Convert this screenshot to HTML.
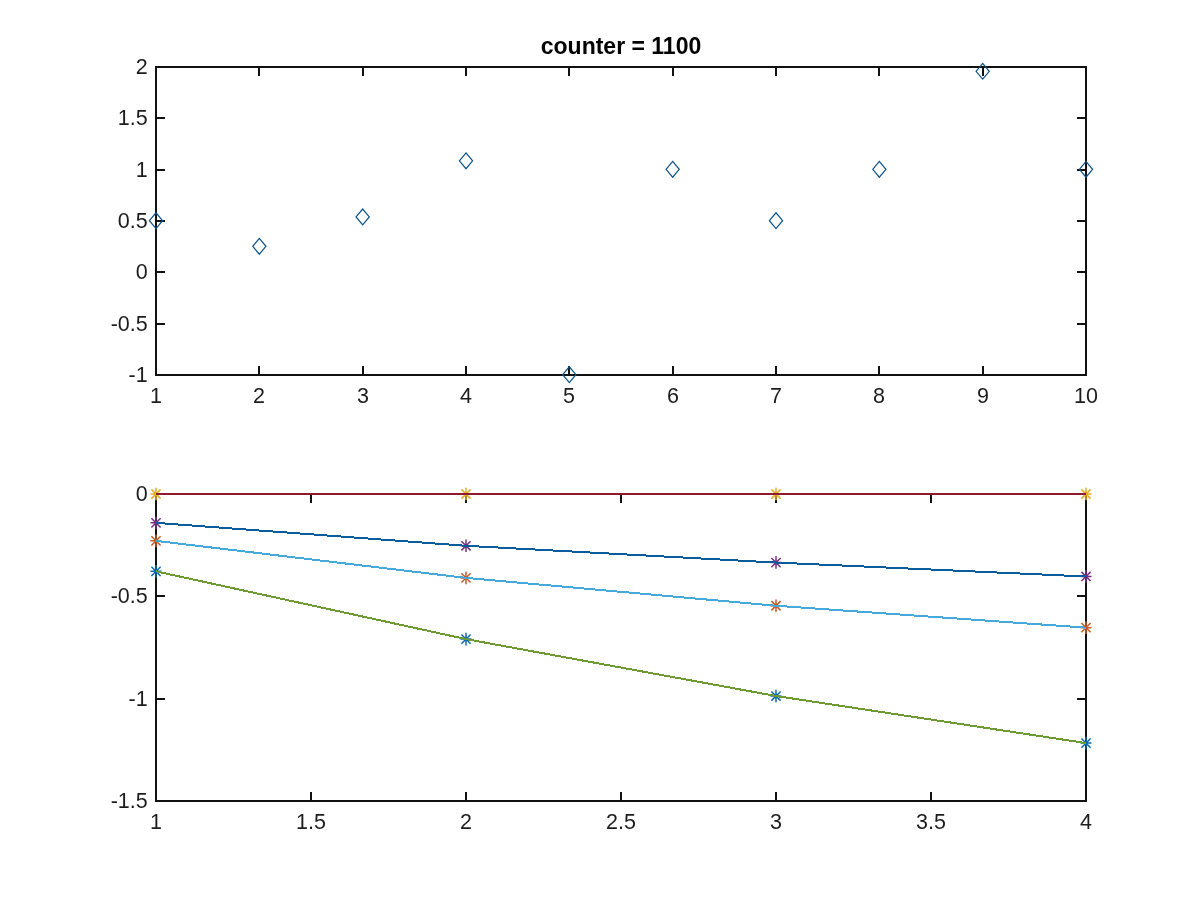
<!DOCTYPE html>
<html><head><meta charset="utf-8"><style>
html,body{margin:0;padding:0;background:#fff;width:1200px;height:900px;overflow:hidden}
svg{display:block;font-family:"Liberation Sans",sans-serif;will-change:transform}
</style></head><body>
<svg width="1200" height="900" viewBox="0 0 1200 900">
<rect width="1200" height="900" fill="#fff"/>
<path d="M156,67 H1086 V375 H156 Z" fill="none" stroke="#111111" stroke-width="2"/>
<line x1="156.00" y1="375.00" x2="156.00" y2="366.00" stroke="#111111" stroke-width="2"/>
<line x1="156.00" y1="67.00" x2="156.00" y2="76.00" stroke="#111111" stroke-width="2"/>
<text x="156.00" y="403.00" text-anchor="middle" font-size="21.5" font-weight="normal" fill="#1c1c1c">1</text>
<line x1="259.00" y1="375.00" x2="259.00" y2="366.00" stroke="#111111" stroke-width="2"/>
<line x1="259.00" y1="67.00" x2="259.00" y2="76.00" stroke="#111111" stroke-width="2"/>
<text x="259.00" y="403.00" text-anchor="middle" font-size="21.5" font-weight="normal" fill="#1c1c1c">2</text>
<line x1="363.00" y1="375.00" x2="363.00" y2="366.00" stroke="#111111" stroke-width="2"/>
<line x1="363.00" y1="67.00" x2="363.00" y2="76.00" stroke="#111111" stroke-width="2"/>
<text x="363.00" y="403.00" text-anchor="middle" font-size="21.5" font-weight="normal" fill="#1c1c1c">3</text>
<line x1="466.00" y1="375.00" x2="466.00" y2="366.00" stroke="#111111" stroke-width="2"/>
<line x1="466.00" y1="67.00" x2="466.00" y2="76.00" stroke="#111111" stroke-width="2"/>
<text x="466.00" y="403.00" text-anchor="middle" font-size="21.5" font-weight="normal" fill="#1c1c1c">4</text>
<line x1="569.00" y1="375.00" x2="569.00" y2="366.00" stroke="#111111" stroke-width="2"/>
<line x1="569.00" y1="67.00" x2="569.00" y2="76.00" stroke="#111111" stroke-width="2"/>
<text x="569.00" y="403.00" text-anchor="middle" font-size="21.5" font-weight="normal" fill="#1c1c1c">5</text>
<line x1="673.00" y1="375.00" x2="673.00" y2="366.00" stroke="#111111" stroke-width="2"/>
<line x1="673.00" y1="67.00" x2="673.00" y2="76.00" stroke="#111111" stroke-width="2"/>
<text x="673.00" y="403.00" text-anchor="middle" font-size="21.5" font-weight="normal" fill="#1c1c1c">6</text>
<line x1="776.00" y1="375.00" x2="776.00" y2="366.00" stroke="#111111" stroke-width="2"/>
<line x1="776.00" y1="67.00" x2="776.00" y2="76.00" stroke="#111111" stroke-width="2"/>
<text x="776.00" y="403.00" text-anchor="middle" font-size="21.5" font-weight="normal" fill="#1c1c1c">7</text>
<line x1="879.00" y1="375.00" x2="879.00" y2="366.00" stroke="#111111" stroke-width="2"/>
<line x1="879.00" y1="67.00" x2="879.00" y2="76.00" stroke="#111111" stroke-width="2"/>
<text x="879.00" y="403.00" text-anchor="middle" font-size="21.5" font-weight="normal" fill="#1c1c1c">8</text>
<line x1="983.00" y1="375.00" x2="983.00" y2="366.00" stroke="#111111" stroke-width="2"/>
<line x1="983.00" y1="67.00" x2="983.00" y2="76.00" stroke="#111111" stroke-width="2"/>
<text x="983.00" y="403.00" text-anchor="middle" font-size="21.5" font-weight="normal" fill="#1c1c1c">9</text>
<line x1="1086.00" y1="375.00" x2="1086.00" y2="366.00" stroke="#111111" stroke-width="2"/>
<line x1="1086.00" y1="67.00" x2="1086.00" y2="76.00" stroke="#111111" stroke-width="2"/>
<text x="1086.00" y="403.00" text-anchor="middle" font-size="21.5" font-weight="normal" fill="#1c1c1c">10</text>
<line x1="156.00" y1="375.00" x2="165.00" y2="375.00" stroke="#111111" stroke-width="2"/>
<line x1="1086.00" y1="375.00" x2="1077.00" y2="375.00" stroke="#111111" stroke-width="2"/>
<text x="147.70" y="382.30" text-anchor="end" font-size="21.5" font-weight="normal" fill="#1c1c1c">-1</text>
<line x1="156.00" y1="324.00" x2="165.00" y2="324.00" stroke="#111111" stroke-width="2"/>
<line x1="1086.00" y1="324.00" x2="1077.00" y2="324.00" stroke="#111111" stroke-width="2"/>
<text x="147.70" y="331.30" text-anchor="end" font-size="21.5" font-weight="normal" fill="#1c1c1c">-0.5</text>
<line x1="156.00" y1="272.00" x2="165.00" y2="272.00" stroke="#111111" stroke-width="2"/>
<line x1="1086.00" y1="272.00" x2="1077.00" y2="272.00" stroke="#111111" stroke-width="2"/>
<text x="147.70" y="279.30" text-anchor="end" font-size="21.5" font-weight="normal" fill="#1c1c1c">0</text>
<line x1="156.00" y1="221.00" x2="165.00" y2="221.00" stroke="#111111" stroke-width="2"/>
<line x1="1086.00" y1="221.00" x2="1077.00" y2="221.00" stroke="#111111" stroke-width="2"/>
<text x="147.70" y="228.30" text-anchor="end" font-size="21.5" font-weight="normal" fill="#1c1c1c">0.5</text>
<line x1="156.00" y1="170.00" x2="165.00" y2="170.00" stroke="#111111" stroke-width="2"/>
<line x1="1086.00" y1="170.00" x2="1077.00" y2="170.00" stroke="#111111" stroke-width="2"/>
<text x="147.70" y="177.30" text-anchor="end" font-size="21.5" font-weight="normal" fill="#1c1c1c">1</text>
<line x1="156.00" y1="118.00" x2="165.00" y2="118.00" stroke="#111111" stroke-width="2"/>
<line x1="1086.00" y1="118.00" x2="1077.00" y2="118.00" stroke="#111111" stroke-width="2"/>
<text x="147.70" y="125.30" text-anchor="end" font-size="21.5" font-weight="normal" fill="#1c1c1c">1.5</text>
<line x1="156.00" y1="67.00" x2="165.00" y2="67.00" stroke="#111111" stroke-width="2"/>
<line x1="1086.00" y1="67.00" x2="1077.00" y2="67.00" stroke="#111111" stroke-width="2"/>
<text x="147.70" y="74.30" text-anchor="end" font-size="21.5" font-weight="normal" fill="#1c1c1c">2</text>
<path d="M149.40,220.65 L156.00,212.75 L162.60,220.65 L156.00,228.55 Z" fill="none" stroke="#0a5188" stroke-width="1.2"/>
<path d="M252.73,246.32 L259.33,238.42 L265.93,246.32 L259.33,254.22 Z" fill="none" stroke="#0a5188" stroke-width="1.2"/>
<path d="M356.07,216.95 L362.67,209.05 L369.27,216.95 L362.67,224.85 Z" fill="none" stroke="#0a5188" stroke-width="1.2"/>
<path d="M459.40,160.80 L466.00,152.90 L472.60,160.80 L466.00,168.70 Z" fill="none" stroke="#0a5188" stroke-width="1.2"/>
<path d="M562.73,374.65 L569.33,366.75 L575.93,374.65 L569.33,382.55 Z" fill="none" stroke="#0a5188" stroke-width="1.2"/>
<path d="M666.07,169.32 L672.67,161.42 L679.27,169.32 L672.67,177.22 Z" fill="none" stroke="#0a5188" stroke-width="1.2"/>
<path d="M769.40,220.65 L776.00,212.75 L782.60,220.65 L776.00,228.55 Z" fill="none" stroke="#0a5188" stroke-width="1.2"/>
<path d="M872.73,169.32 L879.33,161.42 L885.93,169.32 L879.33,177.22 Z" fill="none" stroke="#0a5188" stroke-width="1.2"/>
<path d="M976.07,71.27 L982.67,63.37 L989.27,71.27 L982.67,79.17 Z" fill="none" stroke="#0a5188" stroke-width="1.2"/>
<path d="M1079.40,169.32 L1086.00,161.42 L1092.60,169.32 L1086.00,177.22 Z" fill="none" stroke="#0a5188" stroke-width="1.2"/>
<text x="621.00" y="54.00" text-anchor="middle" font-size="23" font-weight="bold" fill="#000">counter = 1100</text>
<path d="M156,494 H1086 V801 H156 Z" fill="none" stroke="#111111" stroke-width="2"/>
<line x1="156.00" y1="801.00" x2="156.00" y2="792.00" stroke="#111111" stroke-width="2"/>
<line x1="156.00" y1="494.00" x2="156.00" y2="503.00" stroke="#111111" stroke-width="2"/>
<text x="156.00" y="829.00" text-anchor="middle" font-size="21.5" font-weight="normal" fill="#1c1c1c">1</text>
<line x1="311.00" y1="801.00" x2="311.00" y2="792.00" stroke="#111111" stroke-width="2"/>
<line x1="311.00" y1="494.00" x2="311.00" y2="503.00" stroke="#111111" stroke-width="2"/>
<text x="311.00" y="829.00" text-anchor="middle" font-size="21.5" font-weight="normal" fill="#1c1c1c">1.5</text>
<line x1="466.00" y1="801.00" x2="466.00" y2="792.00" stroke="#111111" stroke-width="2"/>
<line x1="466.00" y1="494.00" x2="466.00" y2="503.00" stroke="#111111" stroke-width="2"/>
<text x="466.00" y="829.00" text-anchor="middle" font-size="21.5" font-weight="normal" fill="#1c1c1c">2</text>
<line x1="621.00" y1="801.00" x2="621.00" y2="792.00" stroke="#111111" stroke-width="2"/>
<line x1="621.00" y1="494.00" x2="621.00" y2="503.00" stroke="#111111" stroke-width="2"/>
<text x="621.00" y="829.00" text-anchor="middle" font-size="21.5" font-weight="normal" fill="#1c1c1c">2.5</text>
<line x1="776.00" y1="801.00" x2="776.00" y2="792.00" stroke="#111111" stroke-width="2"/>
<line x1="776.00" y1="494.00" x2="776.00" y2="503.00" stroke="#111111" stroke-width="2"/>
<text x="776.00" y="829.00" text-anchor="middle" font-size="21.5" font-weight="normal" fill="#1c1c1c">3</text>
<line x1="931.00" y1="801.00" x2="931.00" y2="792.00" stroke="#111111" stroke-width="2"/>
<line x1="931.00" y1="494.00" x2="931.00" y2="503.00" stroke="#111111" stroke-width="2"/>
<text x="931.00" y="829.00" text-anchor="middle" font-size="21.5" font-weight="normal" fill="#1c1c1c">3.5</text>
<line x1="1086.00" y1="801.00" x2="1086.00" y2="792.00" stroke="#111111" stroke-width="2"/>
<line x1="1086.00" y1="494.00" x2="1086.00" y2="503.00" stroke="#111111" stroke-width="2"/>
<text x="1086.00" y="829.00" text-anchor="middle" font-size="21.5" font-weight="normal" fill="#1c1c1c">4</text>
<line x1="156.00" y1="801.00" x2="165.00" y2="801.00" stroke="#111111" stroke-width="2"/>
<line x1="1086.00" y1="801.00" x2="1077.00" y2="801.00" stroke="#111111" stroke-width="2"/>
<text x="147.70" y="808.30" text-anchor="end" font-size="21.5" font-weight="normal" fill="#1c1c1c">-1.5</text>
<line x1="156.00" y1="699.00" x2="165.00" y2="699.00" stroke="#111111" stroke-width="2"/>
<line x1="1086.00" y1="699.00" x2="1077.00" y2="699.00" stroke="#111111" stroke-width="2"/>
<text x="147.70" y="706.30" text-anchor="end" font-size="21.5" font-weight="normal" fill="#1c1c1c">-1</text>
<line x1="156.00" y1="596.00" x2="165.00" y2="596.00" stroke="#111111" stroke-width="2"/>
<line x1="1086.00" y1="596.00" x2="1077.00" y2="596.00" stroke="#111111" stroke-width="2"/>
<text x="147.70" y="603.30" text-anchor="end" font-size="21.5" font-weight="normal" fill="#1c1c1c">-0.5</text>
<line x1="156.00" y1="494.00" x2="165.00" y2="494.00" stroke="#111111" stroke-width="2"/>
<line x1="1086.00" y1="494.00" x2="1077.00" y2="494.00" stroke="#111111" stroke-width="2"/>
<text x="147.70" y="501.30" text-anchor="end" font-size="21.5" font-weight="normal" fill="#1c1c1c">0</text>
<path d="M150.50,494.00H161.50M156.00,487.70V500.30M151.40,489.40L160.60,498.60M151.40,498.60L160.60,489.40" fill="none" stroke="#e3ad2c" stroke-width="1.5"/>
<path d="M460.50,494.00H471.50M466.00,487.70V500.30M461.40,489.40L470.60,498.60M461.40,498.60L470.60,489.40" fill="none" stroke="#e3ad2c" stroke-width="1.5"/>
<path d="M770.50,494.00H781.50M776.00,487.70V500.30M771.40,489.40L780.60,498.60M771.40,498.60L780.60,489.40" fill="none" stroke="#e3ad2c" stroke-width="1.5"/>
<path d="M1080.50,494.00H1091.50M1086.00,487.70V500.30M1081.40,489.40L1090.60,498.60M1081.40,498.60L1090.60,489.40" fill="none" stroke="#e3ad2c" stroke-width="1.5"/>
<path d="M150.50,522.86H161.50M156.00,516.56V529.16M151.40,518.26L160.60,527.46M151.40,527.46L160.60,518.26" fill="none" stroke="#74307f" stroke-width="1.5"/>
<path d="M460.50,545.78H471.50M466.00,539.48V552.08M461.40,541.18L470.60,550.38M461.40,550.38L470.60,541.18" fill="none" stroke="#74307f" stroke-width="1.5"/>
<path d="M770.50,562.56H781.50M776.00,556.26V568.86M771.40,557.96L780.60,567.16M771.40,567.16L780.60,557.96" fill="none" stroke="#74307f" stroke-width="1.5"/>
<path d="M1080.50,576.48H1091.50M1086.00,570.18V582.78M1081.40,571.88L1090.60,581.08M1081.40,581.08L1090.60,571.88" fill="none" stroke="#74307f" stroke-width="1.5"/>
<path d="M150.50,540.87H161.50M156.00,534.57V547.17M151.40,536.27L160.60,545.47M151.40,545.47L160.60,536.27" fill="none" stroke="#c65a28" stroke-width="1.5"/>
<path d="M460.50,577.91H471.50M466.00,571.61V584.21M461.40,573.31L470.60,582.51M461.40,582.51L470.60,573.31" fill="none" stroke="#c65a28" stroke-width="1.5"/>
<path d="M770.50,605.75H781.50M776.00,599.45V612.05M771.40,601.15L780.60,610.35M771.40,610.35L780.60,601.15" fill="none" stroke="#c65a28" stroke-width="1.5"/>
<path d="M1080.50,627.65H1091.50M1086.00,621.35V633.95M1081.40,623.05L1090.60,632.25M1081.40,632.25L1090.60,623.05" fill="none" stroke="#c65a28" stroke-width="1.5"/>
<path d="M150.50,571.36H161.50M156.00,565.06V577.66M151.40,566.76L160.60,575.96M151.40,575.96L160.60,566.76" fill="none" stroke="#0b6aae" stroke-width="1.5"/>
<path d="M460.50,639.11H471.50M466.00,632.81V645.41M461.40,634.51L470.60,643.71M461.40,643.71L470.60,634.51" fill="none" stroke="#0b6aae" stroke-width="1.5"/>
<path d="M770.50,696.01H781.50M776.00,689.71V702.31M771.40,691.41L780.60,700.61M771.40,700.61L780.60,691.41" fill="none" stroke="#0b6aae" stroke-width="1.5"/>
<path d="M1080.50,743.08H1091.50M1086.00,736.78V749.38M1081.40,738.48L1090.60,747.68M1081.40,747.68L1090.60,738.48" fill="none" stroke="#0b6aae" stroke-width="1.5"/>
<polyline points="156.00,494.00 466.00,494.00 776.00,494.00 1086.00,494.00" fill="none" stroke="#8f1a30" stroke-width="2" shape-rendering="crispEdges"/>
<polyline points="156.00,522.86 466.00,545.78 776.00,562.56 1086.00,576.48" fill="none" stroke="#0a5c9c" stroke-width="2" shape-rendering="crispEdges"/>
<polyline points="156.00,540.87 466.00,577.91 776.00,605.75 1086.00,627.65" fill="none" stroke="#45aadb" stroke-width="2" shape-rendering="crispEdges"/>
<polyline points="156.00,571.36 466.00,639.11 776.00,696.01 1086.00,743.08" fill="none" stroke="#6e9a32" stroke-width="2" shape-rendering="crispEdges"/>
</svg></body></html>
